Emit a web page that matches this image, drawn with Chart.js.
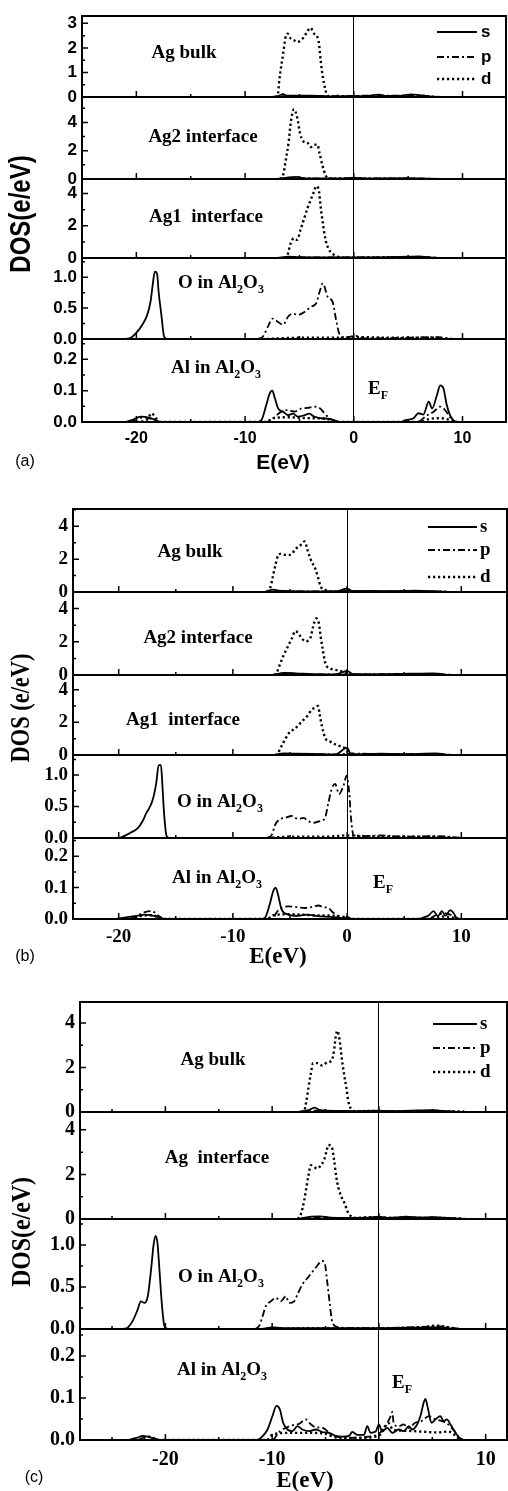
<!DOCTYPE html>
<html>
<head>
<meta charset="utf-8">
<script src="https://cdn.jsdelivr.net/npm/chart.js"></script>
<style>
  body { margin: 0; background: #fff; width: 508px; height: 1491px; position: relative; overflow: hidden; }
  canvas { position: absolute; left: 0; }
</style>
</head>
<body>
<canvas id="panelA"></canvas>
<canvas id="panelB"></canvas>
<canvas id="panelC"></canvas>
<script>
const SANS = '"Liberation Sans", Arial, sans-serif';
const SERIF = '"Liberation Serif", "Times New Roman", serif';

// ---- values: [E (eV), DOS (e/eV)] ----
const orbitals = ['s', 'p', 'd'];
const xTickVals = [-20, -10, 0, 10];
const ticksBulkA = [0, 1, 2, 3];
const ticksAg = [0, 2, 4];
const ticksO = [0, 0.5, 1.0];
const ticksAl = [0, 0.1, 0.2];

// (a)
const aBulkS = [[-8,0],[-7,0.03],[-6.5,0.12],[-6.2,0.06],[-5,0.05],[-4,0.06],[-3,0.04],[-2,0.02],[0,0.04],[1,0.03],[2.3,0.1],[3,0.04],[4.5,0.06],[5.3,0.11],[6,0.08],[7,0.02],[8,0]];
const aBulkP = [[-7.5,0],[-6.5,0.05],[-5,0.04],[-3,0.03],[-1,0.03],[0.5,0.05],[2,0.06],[4,0.05],[5.5,0.08],[7,0.03],[8.5,0]];
const aBulkD = [[-7.2,0],[-7.0,0.05],[-6.85,0.69],[-6.5,1.77],[-6.3,2.38],[-6.1,2.58],[-5.8,2.38],[-5.5,2.31],[-5.2,2.24],[-4.9,2.3],[-4.6,2.44],[-4.3,2.65],[-4.0,2.82],[-3.65,2.58],[-3.35,2.44],[-3.2,2.17],[-3.05,1.5],[-2.85,0.82],[-2.6,0.28],[-2.45,0.08],[-2.2,0.02],[-1.5,0.04],[-0.5,0.02],[1,0.03],[3,0.02],[6,0.02]];
const aAg2S = [[-7,0],[-6,0.12],[-5.3,0.15],[-4.5,0.05],[-3,0.04],[-1,0.03],[0,0.1],[1,0.03],[3,0.04],[5,0.06],[7,0.02],[8,0]];
const aAg2P = [[-6.5,0],[-5.5,0.08],[-4,0.04],[-2,0.03],[0,0.05],[3,0.05],[6,0.03],[8,0]];
const aAg2D = [[-6.8,0],[-6.5,0.28],[-6.25,1.36],[-6.0,2.55],[-5.8,3.98],[-5.5,4.93],[-5.2,4.33],[-4.95,3.26],[-4.65,2.67],[-4.25,2.55],[-3.95,2.26],[-3.65,2.43],[-3.35,2.43],[-3.15,1.83],[-2.9,1.0],[-2.6,0.28],[-2.3,0.05],[-1.5,0.03],[0,0.06],[2,0.02],[5,0.03]];
const aAg1S = [[-7,0],[-6,0.08],[-5,0.05],[-3,0.04],[-1,0.03],[1,0.03],[5,0.08],[6,0.1],[7,0.04],[8,0]];
const aAg1P = [[-6.5,0],[-5,0.04],[-3,0.03],[0,0.04],[4,0.05],[6.5,0.06],[8,0]];
const aAg1D = [[-6.4,0],[-6.1,0.19],[-5.8,0.92],[-5.5,1.23],[-5.2,1.13],[-4.9,1.75],[-4.55,2.48],[-4.25,3.1],[-3.95,3.63],[-3.65,4.14],[-3.45,4.46],[-3.2,4.14],[-3.05,3.2],[-2.85,2.17],[-2.6,1.13],[-2.35,0.6],[-2.0,0.29],[-1.5,0.08],[-1.0,0.02],[1,0.03],[5,0.05],[7,0.02]];
const aOS = [[-21,0],[-20.5,0.02],[-20.05,0.09],[-19.45,0.23],[-19.0,0.39],[-18.7,0.6],[-18.5,0.87],[-18.3,1.09],[-18.1,1.06],[-17.95,0.76],[-17.7,0.39],[-17.45,0.04],[-17.2,0]];
const aOP = [[-8.8,0],[-8.35,0.04],[-7.9,0.2],[-7.45,0.33],[-7.0,0.28],[-6.5,0.23],[-6.05,0.36],[-5.6,0.41],[-5.15,0.39],[-4.5,0.44],[-3.95,0.52],[-3.45,0.58],[-3.15,0.76],[-2.85,0.9],[-2.4,0.68],[-1.95,0.6],[-1.65,0.33],[-1.35,0.09],[-0.9,0.02],[0.2,0.05],[1,0.01],[5,0.02],[7.5,0.03],[9,0.01]];
const aOD = [[-8,0],[-5,0.02],[-2,0.02],[0,0.03],[4,0.02],[8,0.02]];
const aAlS = [[-21,0],[-20.4,0.006],[-19.6,0.017],[-18.85,0.014],[-18.2,0.006],[-17.8,0],[-8.9,0],[-8.5,0.006],[-8.05,0.054],[-7.75,0.09],[-7.5,0.1],[-7.25,0.075],[-6.95,0.043],[-6.5,0.033],[-6.05,0.022],[-5.6,0.027],[-5.15,0.017],[-4.5,0.022],[-4.1,0.027],[-3.65,0.017],[-3.0,0.012],[-2.25,0.01],[-1.65,0.004],[-1.2,0],[4.3,0],[4.75,0.006],[5.5,0.012],[5.95,0.028],[6.4,0.024],[6.9,0.065],[7.2,0.043],[7.65,0.086],[7.95,0.117],[8.25,0.107],[8.55,0.054],[8.85,0.022],[9.15,0.006],[9.5,0]];
const aAlP = [[-20.5,0],[-19.8,0.012],[-19.2,0.015],[-18.6,0.01],[-18.0,0],[-8,0],[-7.5,0.01],[-6.65,0.033],[-6.05,0.038],[-5.45,0.033],[-4.85,0.043],[-4.25,0.045],[-3.65,0.049],[-3.15,0.045],[-2.7,0.028],[-2.25,0.012],[-1.8,0.005],[-1.3,0],[5.8,0],[6.7,0.02],[7.35,0.033],[7.95,0.049],[8.4,0.038],[8.85,0.015],[9.3,0]];
const aAlD = [[-20,0],[-19,0.008],[-18.6,0.028],[-18.2,0.012],[-17.7,0],[-8,0],[-7.5,0.012],[-6,0.015],[-4,0.012],[-2.5,0.01],[-1.5,0],[6,0],[7,0.01],[8,0.012],[9,0.005],[9.5,0]];

// (b)
const bBulkS = [[-7.2,0],[-6.5,0.15],[-6,0.08],[-5,0.05],[-3,0.04],[-1,0.03],[0,0.2],[0.5,0.05],[2,0.06],[4,0.05],[6,0.08],[8,0.03],[9,0]];
const bBulkP = [[-7,0],[-6,0.05],[-4,0.04],[-2,0.03],[0,0.06],[3,0.04],[6,0.05],[9,0]];
const bBulkD = [[-7.0,0],[-6.73,0.26],[-6.52,0.88],[-6.29,1.6],[-6.05,2.22],[-5.85,2.32],[-5.4,2.26],[-4.97,2.26],[-4.5,2.63],[-4.1,2.83],[-3.7,3.08],[-3.5,2.63],[-3.2,2.0],[-2.78,1.4],[-2.54,0.88],[-2.34,0.37],[-1.9,0.12],[-1.5,0.03],[0,0.05],[3,0.02],[6,0.03],[9,0.01]];
const bAg2S = [[-6.5,0],[-5.5,0.12],[-4.5,0.1],[-3,0.05],[-1,0.04],[0,0.25],[0.5,0.05],[3,0.04],[5.5,0.08],[7.5,0.1],[9,0]];
const bAg2P = [[-6.5,0],[-5,0.06],[-3,0.04],[-1,0.04],[0.5,0.04],[4,0.06],[8,0.04],[9.5,0]];
const bAg2D = [[-6.4,0],[-6.14,0.18],[-5.85,0.7],[-5.55,1.21],[-5.18,1.72],[-4.82,2.23],[-4.53,2.65],[-4.1,2.34],[-3.66,2.03],[-3.22,2.23],[-3.0,2.85],[-2.72,3.4],[-2.48,3.16],[-2.34,2.44],[-2.13,1.52],[-1.9,0.7],[-1.46,0.39],[-0.88,0.29],[-0.29,0.18],[0.3,0.03],[3,0.02],[7,0.03]];
const bAg1S = [[-6.5,0],[-5.5,0.1],[-4.5,0.08],[-3,0.06],[-1,0.04],[0,0.45],[0.3,0.1],[1,0.04],[3,0.08],[5,0.05],[7.7,0.1],[9,0]];
const bAg1P = [[-6.5,0],[-5,0.05],[-3,0.05],[-1,0.04],[0.5,0.08],[4,0.05],[8,0.04],[9.5,0]];
const bAg1D = [[-6.3,0],[-6.14,0.05],[-5.7,0.6],[-5.11,1.33],[-4.53,1.64],[-3.95,2.06],[-3.5,2.38],[-3.07,2.79],[-2.78,2.9],[-2.54,3.0],[-2.4,2.48],[-2.2,1.75],[-1.9,1.02],[-1.46,0.81],[-0.88,0.6],[-0.29,0.46],[0,0.3],[0.44,0.08],[1,0.02],[4,0.03],[8,0.03]];
const bOS = [[-20.2,0],[-19.8,0.01],[-19.0,0.08],[-18.3,0.16],[-17.9,0.27],[-17.57,0.4],[-17.37,0.46],[-17.0,0.62],[-16.7,0.89],[-16.5,1.16],[-16.3,1.16],[-16.17,0.83],[-16.03,0.4],[-15.8,0.03],[-15.5,0]];
const bOP = [[-7,0],[-6.6,0.05],[-6.3,0.21],[-5.88,0.3],[-5.44,0.32],[-4.85,0.35],[-4.27,0.3],[-3.83,0.32],[-3.4,0.27],[-2.96,0.24],[-2.37,0.27],[-1.93,0.32],[-1.64,0.56],[-1.35,0.78],[-1.05,0.86],[-0.7,0.7],[-0.32,0.83],[-0.03,0.99],[0.18,0.73],[0.35,0.3],[0.56,0.05],[1,0.03],[3,0.04],[5,0.02],[8,0.03],[10,0]];
const bOD = [[-7,0],[-5,0.02],[-2,0.02],[0,0.04],[3,0.02],[7,0.02],[10,0]];
const bAlS = [[-20.2,0],[-19.8,0.003],[-18.6,0.009],[-17.7,0.014],[-16.8,0.009],[-16.2,0],[-7.5,0],[-7.2,0.003],[-6.75,0.05],[-6.46,0.09],[-6.25,0.1],[-6.02,0.073],[-5.73,0.03],[-5.15,0.014],[-4.3,0.01],[-3.5,0.014],[-2.6,0.009],[-1.5,0.007],[-0.4,0.003],[0,0.005],[0.5,0],[6.2,0],[6.55,0.003],[7.13,0.011],[7.57,0.025],[7.95,0.009],[8.3,0.025],[8.6,0.011],[9.04,0.028],[9.3,0.02],[9.6,0.003],[10,0]];
const bAlP = [[-19,0],[-18.3,0.012],[-17.7,0.022],[-17.1,0.025],[-16.5,0.01],[-16,0],[-6.5,0],[-6.2,0.02],[-5.73,0.035],[-5.15,0.04],[-4.4,0.038],[-3.7,0.035],[-3.1,0.038],[-2.5,0.043],[-2.1,0.038],[-1.65,0.035],[-1.2,0.02],[-0.8,0.009],[-0.3,0],[7,0],[7.8,0.012],[8.6,0.018],[9.3,0.01],[9.8,0]];
const bAlD = [[-19,0],[-18,0.01],[-17,0.012],[-16.3,0],[-7,0],[-6.5,0.012],[-5,0.015],[-3,0.012],[-1,0.01],[0,0.005],[0.5,0],[7,0],[8.5,0.008],[9.8,0]];

// (c)
const cBulkS = [[-7.5,0],[-6.5,0.1],[-6,0.2],[-5.5,0.08],[-4,0.05],[-2,0.04],[0,0.06],[1,0.04],[3,0.06],[5,0.08],[6,0.05],[7.5,0]];
const cBulkP = [[-7.5,0],[-6,0.06],[-4,0.05],[-2,0.04],[0,0.05],[3,0.05],[5,0.06],[7.5,0]];
const cBulkD = [[-7.3,0],[-7.0,0.05],[-6.79,0.5],[-6.6,1.1],[-6.38,1.71],[-6.17,2.2],[-5.76,2.2],[-5.3,2.09],[-4.83,2.24],[-4.42,2.32],[-4.2,2.77],[-4.05,3.38],[-3.9,3.65],[-3.68,3.23],[-3.49,2.47],[-3.27,1.71],[-3.05,1.1],[-2.87,0.5],[-2.65,0.17],[-2.2,0.03],[-1,0.05],[0,0.04],[2,0.03],[5,0.04],[8,0.02]];
const cAgS = [[-7.5,0],[-6.5,0.1],[-5.5,0.12],[-4.5,0.06],[-3,0.05],[-1,0.06],[0,0.1],[1,0.05],[2.5,0.1],[4,0.06],[5,0.08],[7,0.03],[8,0]];
const cAgP = [[-7.5,0],[-6,0.06],[-4,0.05],[-2,0.04],[0,0.06],[3,0.06],[5,0.06],[8,0]];
const cAgD = [[-7.6,0],[-7.32,0.21],[-7.0,0.82],[-6.79,1.42],[-6.6,1.95],[-6.38,2.41],[-6.07,2.33],[-5.76,2.26],[-5.45,2.41],[-5.14,2.64],[-4.92,3.02],[-4.73,3.32],[-4.42,3.24],[-4.2,2.64],[-3.99,1.88],[-3.8,1.42],[-3.49,0.97],[-3.18,0.67],[-2.96,0.36],[-2.65,0.14],[-2.2,0.05],[-1,0.08],[0,0.06],[2,0.05],[5,0.05],[8,0.02]];
const cOS = [[-24,0],[-23.5,0.02],[-23.05,0.1],[-22.6,0.23],[-22.3,0.33],[-21.96,0.31],[-21.65,0.39],[-21.34,0.71],[-21.12,0.99],[-20.93,1.11],[-20.75,1.03],[-20.56,0.71],[-20.34,0.31],[-20.1,0.04],[-19.8,0],[-11,0],[-10,0.02],[-9,0.01],[-4,0.01],[0,0.01],[5,0.02],[6,0.02],[7,0]];
const cOP = [[-11.6,0],[-11.2,0.04],[-10.9,0.15],[-10.59,0.27],[-10.12,0.33],[-9.66,0.37],[-9.19,0.33],[-8.72,0.39],[-8.41,0.31],[-7.94,0.33],[-7.63,0.41],[-7.17,0.53],[-6.54,0.63],[-5.92,0.73],[-5.3,0.81],[-5.05,0.77],[-4.83,0.55],[-4.61,0.31],[-4.36,0.08],[-3.8,0.02],[-2,0.01],[0,0.01],[3,0.02],[5,0.03],[6,0.03],[7.5,0]];
const cOD = [[-10,0],[-7,0.01],[-4,0.01],[0,0.01],[4,0.02],[5.5,0.04],[6.5,0.02],[7.5,0]];
const cAlS = [[-23.5,0],[-22.7,0.005],[-22.1,0.01],[-21.5,0.007],[-20.9,0.002],[-20.5,0],[-11.5,0],[-11.06,0.005],[-10.43,0.025],[-9.97,0.057],[-9.6,0.081],[-9.28,0.073],[-8.97,0.041],[-8.57,0.025],[-8.1,0.021],[-7.63,0.033],[-7.17,0.025],[-6.54,0.021],[-5.92,0.025],[-5.3,0.019],[-4.67,0.017],[-4.05,0.01],[-3.4,0.008],[-2.8,0.01],[-2.49,0.019],[-2.0,0.012],[-1.4,0.012],[-1.09,0.033],[-0.78,0.017],[-0.3,0.02],[0,0.037],[0.3,0.02],[0.78,0.029],[1.25,0.017],[1.87,0.025],[2.34,0.021],[2.8,0.033],[3.1,0.025],[3.58,0.037],[3.89,0.057],[4.2,0.089],[4.36,0.098],[4.61,0.073],[4.92,0.041],[5.3,0.049],[5.76,0.057],[6.07,0.045],[6.38,0.049],[6.7,0.037],[7.0,0.025],[7.32,0.012],[7.6,0.004],[8,0]];
const cAlP = [[-22.5,0],[-21.8,0.008],[-21.2,0.006],[-20.6,0],[-10,0],[-9.3,0.02],[-8.1,0.035],[-7.5,0.038],[-6.85,0.049],[-6.4,0.038],[-5.9,0.03],[-5.45,0.03],[-5.0,0.025],[-4.5,0.012],[-4.0,0.008],[-3,0.005],[-1,0.008],[0,0.015],[0.62,0.033],[1.1,0.057],[1.25,0.067],[1.4,0.037],[1.9,0.033],[2.3,0.037],[2.8,0.029],[3.4,0.041],[4.0,0.045],[4.67,0.057],[5.3,0.049],[5.9,0.045],[6.5,0.037],[7.1,0.02],[7.4,0.01],[7.8,0]];
const cAlD = [[-22.5,0],[-21.5,0.008],[-20.8,0],[-10.5,0],[-10,0.012],[-8.5,0.017],[-6.5,0.017],[-5,0.015],[-4,0.006],[-2,0.005],[0,0.01],[0.5,0.03],[0.9,0.04],[1.3,0.025],[2.5,0.022],[4,0.02],[5.5,0.018],[6.5,0.02],[7.2,0.01],[7.6,0]];

// line look of each orbital
const lineStyle = {
  s: { dash: [], width: 1.8 },
  p: { dash: [7, 3, 2, 3], width: 1.8 },
  d: { dash: [2.2, 2.8], width: 2.4 }
};

const AlO = (lead) => [{ t: lead }, { t: '2', sub: true }, { t: 'O' }, { t: '3', sub: true }];
const EF = [{ t: 'E' }, { t: 'F', sub: true }];

const panels = [
  {
    canvas: 'panelA', top: 0, height: 478,
    left: 82, right: 506, plotTop: 16, plotBottom: 422,
    xMin: -25, xMax: 14, xPad: 7,
    tickFont: { family: SANS, size: 16, weight: 'bold' },
    yTickFont: { family: SANS, size: 17, weight: 'bold' },
    subs: [
      { min: 0, max: 3.3, ticks: ticksBulkA, dec: 0, h: 81, s: aBulkS, p: aBulkP, d: aBulkD },
      { min: 0, max: 5.8, ticks: ticksAg, dec: 0, h: 82, s: aAg2S, p: aAg2P, d: aAg2D },
      { min: 0, max: 4.9, ticks: ticksAg, dec: 0, h: 79, s: aAg1S, p: aAg1P, d: aAg1D },
      { min: 0, max: 1.31, ticks: ticksO, dec: 1, h: 81, s: aOS, p: aOP, d: aOD },
      { min: 0, max: 0.265, ticks: ticksAl, dec: 1, h: 83, s: aAlS, p: aAlP, d: aAlD }
    ],
    yTitle: { text: 'DOS(e/eV)', x: 22, y: 214, font: 'bold 30px ' + SANS, squeeze: 0.8 },
    xTitle: { text: 'E(eV)', x: 283, y: 463, font: 'bold 21px ' + SANS },
    tag: { text: '(a)', x: 25, y: 462, font: '16px ' + SANS },
    labels: [
      { parts: [{ t: 'Ag bulk' }], x: 184, y: 53, align: 'center' },
      { parts: [{ t: 'Ag2 interface' }], x: 203, y: 137, align: 'center' },
      { parts: [{ t: 'Ag1  interface' }], x: 206, y: 217, align: 'center' },
      { parts: AlO('O in Al'), x: 178, y: 283 },
      { parts: AlO('Al in Al'), x: 171, y: 368 },
      { parts: EF, x: 368, y: 389 }
    ],
    legend: { x1: 437, x2: 477, ys: [32, 57, 79], tx: 481, font: 'bold 17px ' + SANS }
  },
  {
    canvas: 'panelB', top: 478, height: 490,
    left: 73, right: 507, plotTop: 509, plotBottom: 919,
    xMin: -24, xMax: 14, xPad: 7,
    tickFont: { family: SERIF, size: 19, weight: 'bold' },
    yTickFont: { family: SERIF, size: 19, weight: 'bold' },
    subs: [
      { min: 0, max: 5.05, ticks: ticksAg, dec: 0, h: 83, s: bBulkS, p: bBulkP, d: bBulkD },
      { min: 0, max: 5.0, ticks: ticksAg, dec: 0, h: 83, s: bAg2S, p: bAg2P, d: bAg2D },
      { min: 0, max: 4.9, ticks: ticksAg, dec: 0, h: 80, s: bAg1S, p: bAg1P, d: bAg1D },
      { min: 0, max: 1.32, ticks: ticksO, dec: 1, h: 83, s: bOS, p: bOP, d: bOD },
      { min: 0, max: 0.258, ticks: ticksAl, dec: 1, h: 81, s: bAlS, p: bAlP, d: bAlD }
    ],
    yTitle: { text: 'DOS (e/eV)', x: 22, y: 708, font: 'bold 28px ' + SERIF, squeeze: 0.8 },
    xTitle: { text: 'E(eV)', x: 278, y: 957, font: 'bold 23px ' + SERIF },
    tag: { text: '(b)', x: 25, y: 957, font: '16px ' + SANS },
    labels: [
      { parts: [{ t: 'Ag bulk' }], x: 190, y: 552, align: 'center' },
      { parts: [{ t: 'Ag2 interface' }], x: 198, y: 638, align: 'center' },
      { parts: [{ t: 'Ag1  interface' }], x: 183, y: 720, align: 'center' },
      { parts: AlO('O in Al'), x: 177, y: 802 },
      { parts: AlO('Al in Al'), x: 172, y: 878 },
      { parts: EF, x: 373, y: 883 }
    ],
    legend: { x1: 428, x2: 477, ys: [527, 550, 577], tx: 480, font: 'bold 19px ' + SERIF }
  },
  {
    canvas: 'panelC', top: 968, height: 523,
    left: 80, right: 507, plotTop: 1002, plotBottom: 1440,
    xMin: -28, xMax: 12, xPad: 8,
    tickFont: { family: SERIF, size: 20, weight: 'bold' },
    yTickFont: { family: SERIF, size: 20, weight: 'bold' },
    subs: [
      { min: 0, max: 4.95, ticks: ticksAg, dec: 0, h: 110, s: cBulkS, p: cBulkP, d: cBulkD },
      { min: 0, max: 4.8, ticks: ticksAg, dec: 0, h: 107, s: cAgS, p: cAgP, d: cAgD },
      { min: 0, max: 1.31, ticks: ticksO, dec: 1, h: 110, s: cOS, p: cOP, d: cOD },
      { min: 0, max: 0.264, ticks: ticksAl, dec: 1, h: 111, s: cAlS, p: cAlP, d: cAlD }
    ],
    yTitle: { text: 'DOS(e/eV)', x: 23, y: 1232, font: 'bold 28px ' + SERIF, squeeze: 0.85 },
    xTitle: { text: 'E(eV)', x: 305, y: 1481, font: 'bold 23px ' + SERIF },
    tag: { text: '(c)', x: 34, y: 1478, font: '16px ' + SANS },
    labels: [
      { parts: [{ t: 'Ag bulk' }], x: 213, y: 1060, align: 'center' },
      { parts: [{ t: 'Ag  interface' }], x: 217, y: 1158, align: 'center' },
      { parts: AlO('O in Al'), x: 178, y: 1277 },
      { parts: AlO('Al in Al'), x: 177, y: 1370 },
      { parts: EF, x: 392, y: 1383 }
    ],
    legend: { x1: 433, x2: 477, ys: [1024, 1048, 1072], tx: 480, font: 'bold 19px ' + SERIF }
  }
];

function drawRich(ctx, parts, x, y, align) {
  const big = 'bold 19px ' + SERIF;
  const small = 'bold 12px ' + SERIF;
  let w = 0;
  parts.forEach(pt => { ctx.font = pt.sub ? small : big; w += ctx.measureText(pt.t).width; });
  let cx = align === 'center' ? x - w / 2 : x;
  ctx.textAlign = 'left';
  ctx.textBaseline = 'middle';
  parts.forEach(pt => {
    ctx.font = pt.sub ? small : big;
    ctx.fillText(pt.t, cx, pt.sub ? y + 7 : y);
    cx += ctx.measureText(pt.t).width;
  });
}

function framePlugin(p) {
  return {
    id: 'frame',
    afterDatasetsDraw(chart) {
      const ctx = chart.ctx;
      const area = chart.chartArea;
      const xs = chart.scales.x;
      ctx.save();
      ctx.strokeStyle = '#000';
      ctx.fillStyle = '#000';
      ctx.lineWidth = 2;
      ctx.strokeRect(area.left, area.top, area.right - area.left, area.bottom - area.top);

      // inward ticks of every subplot
      p.subs.forEach((sub, i) => {
        const ys = chart.scales['y' + i];
        const base = ys.getPixelForValue(sub.min);
        const step = sub.ticks[1] - sub.ticks[0];
        ctx.lineWidth = 1.5;
        ctx.beginPath();
        sub.ticks.forEach(v => {
          const py = ys.getPixelForValue(v);
          ctx.moveTo(area.left, py); ctx.lineTo(area.left + 6, py);
          const m = v + step / 2;
          if (m < sub.max) {
            const pm = ys.getPixelForValue(m);
            ctx.moveTo(area.left, pm); ctx.lineTo(area.left + 3, pm);
          }
        });
        for (let v = Math.ceil(p.xMin / 5) * 5; v < p.xMax; v += 5) {
          if (v <= p.xMin) continue;
          const px = xs.getPixelForValue(v);
          const len = v % 10 === 0 ? 6 : 3;
          ctx.moveTo(px, base); ctx.lineTo(px, base - len);
        }
        ctx.stroke();
      });

      // legend
      orbitals.forEach((o, k) => {
        const ly = p.legend.ys[k] - p.top;
        ctx.setLineDash(lineStyle[o].dash);
        ctx.lineWidth = lineStyle[o].width;
        ctx.beginPath();
        ctx.moveTo(p.legend.x1, ly); ctx.lineTo(p.legend.x2, ly);
        ctx.stroke();
        ctx.setLineDash([]);
        ctx.font = p.legend.font;
        ctx.textAlign = 'left';
        ctx.textBaseline = 'middle';
        ctx.fillText(o, p.legend.tx, ly);
      });

      // subplot names and E_F
      p.labels.forEach(l => drawRich(ctx, l.parts, l.x, l.y - p.top, l.align));

      // axis titles and panel tag
      ctx.textAlign = 'center';
      ctx.textBaseline = 'middle';
      ctx.font = p.xTitle.font;
      ctx.fillText(p.xTitle.text, p.xTitle.x, p.xTitle.y - p.top);
      ctx.font = p.tag.font;
      ctx.fillText(p.tag.text, p.tag.x, p.tag.y - p.top);
      ctx.save();
      ctx.translate(p.yTitle.x, p.yTitle.y - p.top);
      ctx.rotate(-Math.PI / 2);
      ctx.scale(p.yTitle.squeeze, 1);
      ctx.font = p.yTitle.font;
      ctx.fillText(p.yTitle.text, 0, 0);
      ctx.restore();
      ctx.restore();
    }
  };
}

function buildPanel(p) {
  const cv = document.getElementById(p.canvas);
  cv.width = 508;
  cv.height = p.height;
  cv.style.top = p.top + 'px';

  const xAxisH = p.height - (p.plotBottom - p.top);
  const scales = {
    x: {
      type: 'linear', position: 'bottom', min: p.xMin, max: p.xMax,
      afterBuildTicks: s => { s.ticks = xTickVals.map(v => ({ value: v })); },
      afterFit: s => { s.height = xAxisH; },
      ticks: { font: p.tickFont, color: '#000', padding: p.xPad, autoSkip: false, maxRotation: 0 },
      grid: { drawTicks: false, lineWidth: 1, color: c => (c.tick && c.tick.value === 0 ? '#000' : 'rgba(0,0,0,0)') },
      border: { display: true, color: '#000', width: 2 }
    }
  };
  const datasets = [];
  // bottom subplot is defined first: the last stacked axis lands on top
  for (let i = p.subs.length - 1; i >= 0; i--) {
    const sub = p.subs[i];
    const id = 'y' + i;
    scales[id] = {
      type: 'linear', position: 'left', stack: 'dos', stackWeight: sub.h,
      min: sub.min, max: sub.max,
      afterBuildTicks: s => { s.ticks = sub.ticks.map(v => ({ value: v })); },
      afterFit: s => { s.width = p.left; },
      ticks: { font: p.yTickFont, color: '#000', padding: 5, autoSkip: false,
               callback: v => Number(v).toFixed(sub.dec) },
      grid: { drawTicks: false, lineWidth: 2, color: c => (c.tick && c.tick.value === sub.min ? '#000' : 'rgba(0,0,0,0)') },
      border: { display: true, color: '#000', width: 2 }
    };
    orbitals.forEach(o => {
      datasets.push({
        label: o,
        data: sub[o].map(([x, y]) => ({ x, y })),
        xAxisID: 'x', yAxisID: id,
        borderColor: '#000',
        borderWidth: lineStyle[o].width,
        borderDash: lineStyle[o].dash,
        pointRadius: 0,
        fill: false,
        tension: 0,
        cubicInterpolationMode: 'monotone'
      });
    });
  }

  new Chart(cv, {
    type: 'line',
    data: { datasets },
    options: {
      responsive: false,
      animation: false,
      events: [],
      layout: { padding: { left: 0, right: 508 - p.right, top: p.plotTop - p.top, bottom: 0 } },
      scales,
      plugins: { legend: { display: false }, tooltip: { enabled: false } }
    },
    plugins: [framePlugin(p)]
  });
}

panels.forEach(buildPanel);
</script>
</body>
</html>
